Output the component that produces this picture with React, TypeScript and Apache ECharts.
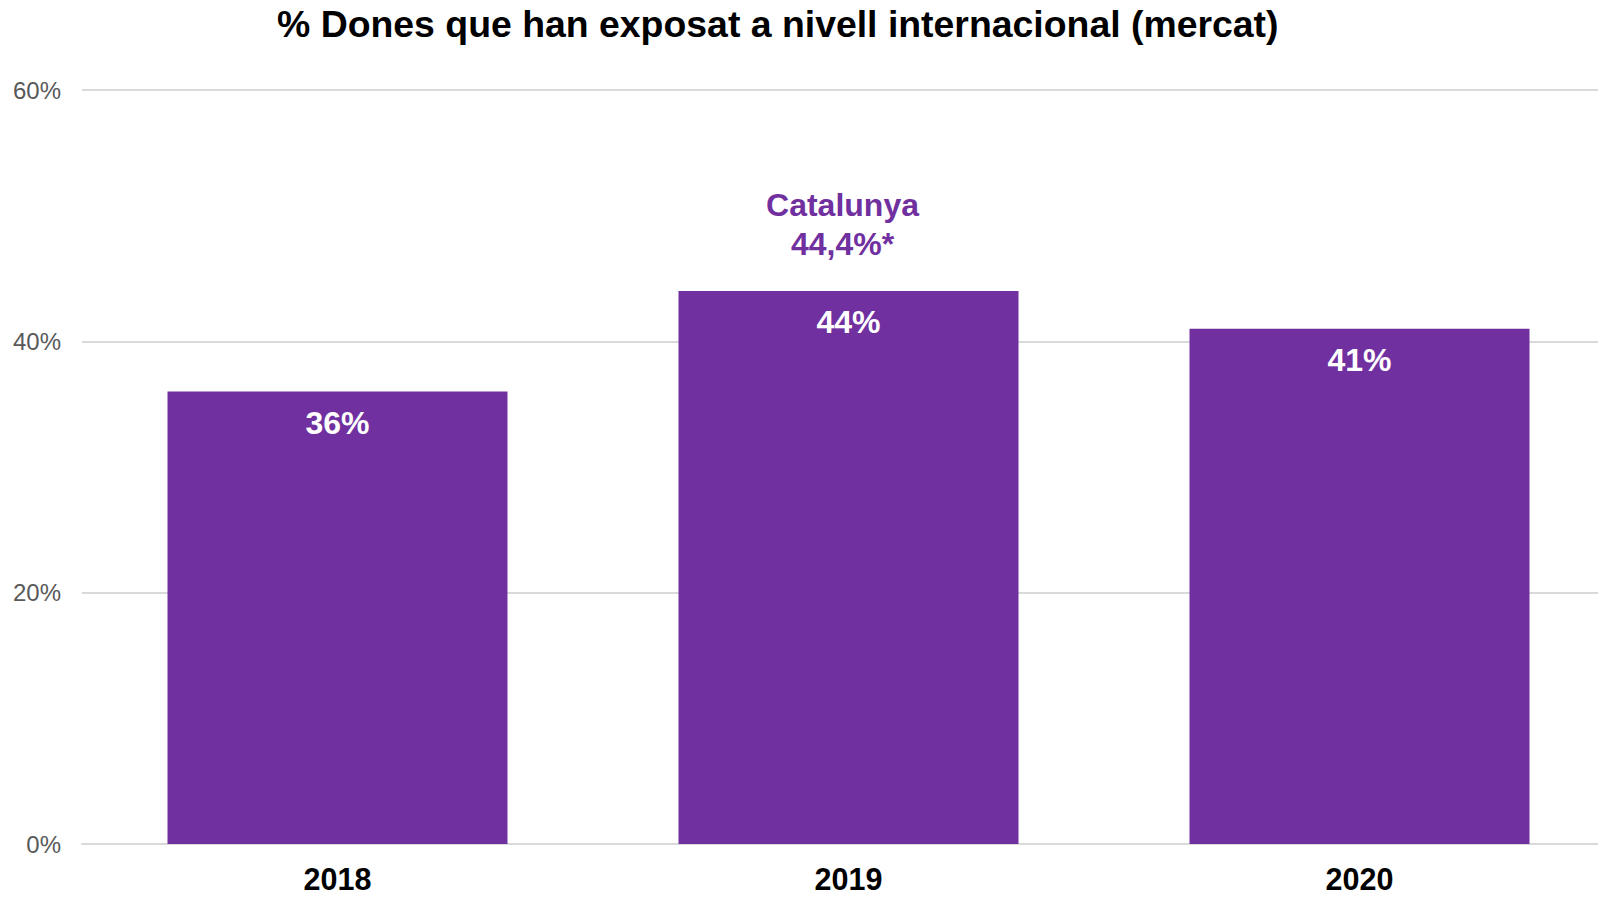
import React, { useEffect, useRef } from "react";
import * as echarts from "echarts";

const titleText = "% Dones que han exposat a nivell internacional (mercat)";
const categories = ["2018", "2019", "2020"];
const values = [36, 44, 41];
const annotationValues: (number | null)[] = [null, 44, null];
const annotationLabel = "Catalunya\n44,4%*";
const yTicks = { min: 0, max: 60, interval: 20 };

const PURPLE = "#7030A0";
const FONT = "'Liberation Sans', Arial, Helvetica, sans-serif";

export default function App() {
  const ref = useRef<HTMLDivElement>(null);
  useEffect(() => {
    if (!ref.current) return;
    const chart = echarts.init(ref.current, undefined, { renderer: "svg" });
    chart.setOption({
      animation: false,
      backgroundColor: "#ffffff",
      textStyle: { fontFamily: FONT },
      title: {
        text: titleText,
        left: 277,
        top: 5,
        padding: 0,
        textStyle: {
          fontFamily: FONT,
          fontSize: 37.4,
          fontWeight: "bold",
          color: "#000000",
          lineHeight: 37,
        },
      },
      grid: { left: 82, right: 0, top: 90, bottom: 53, containLabel: false },
      xAxis: {
        type: "category",
        data: categories,
        axisTick: { show: false },
        axisLine: { show: true, lineStyle: { color: "#D9D9D9", width: 2 } },
        axisLabel: {
          fontFamily: FONT,
          fontSize: 30.5,
          lineHeight: 26,
          fontWeight: "bold",
          color: "#000000",
          margin: 22,
        },
      },
      yAxis: {
        type: "value",
        min: yTicks.min,
        max: yTicks.max,
        interval: yTicks.interval,
        axisLine: { show: false },
        axisTick: { show: false },
        splitLine: { lineStyle: { color: "#D9D9D9", width: 2 } },
        axisLabel: {
          formatter: "{value}%",
          fontFamily: FONT,
          fontSize: 24,
          color: "#595959",
          margin: 21,
        },
      },
      series: [
        {
          type: "bar",
          data: values,
          barWidth: 340,
          itemStyle: { color: PURPLE },
          label: {
            show: true,
            position: "insideTop",
            distance: 15,
            formatter: "{c}%",
            fontFamily: FONT,
            fontSize: 32,
            fontWeight: "bold",
            color: "#ffffff",
          },
          z: 2,
        },
        {
          type: "bar",
          data: annotationValues,
          barWidth: 340,
          barGap: "-100%",
          itemStyle: { color: "rgba(0,0,0,0)" },
          silent: true,
          label: {
            show: true,
            position: "top",
            distance: 28,
            offset: [-6, 0],
            formatter: annotationLabel,
            fontFamily: FONT,
            fontSize: 32,
            lineHeight: 39,
            fontWeight: "bold",
            color: PURPLE,
            align: "center",
          },
          z: 3,
        },
      ],
    });
    return () => chart.dispose();
  }, []);
  return (
    <div
      ref={ref}
      style={{ position: "fixed", left: 0, top: 0, width: 1615, height: 897 }}
    />
  );
}
